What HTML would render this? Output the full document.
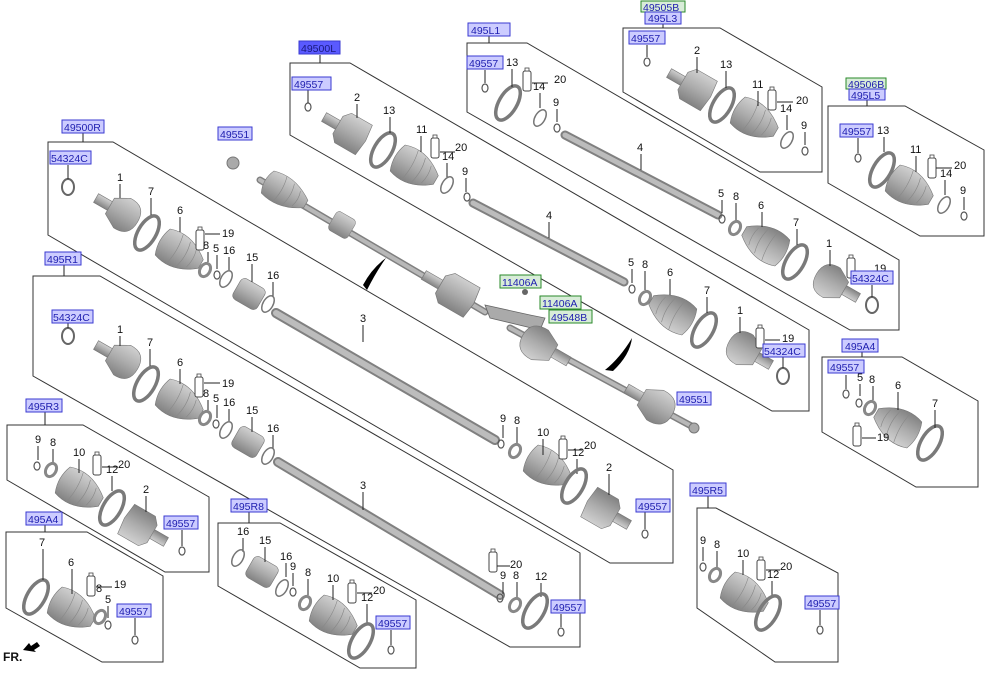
<!DOCTYPE html>
<html><head><meta charset="utf-8"><style>
html,body{margin:0;padding:0;background:#fff;}
svg{display:block;}
.p{fill:none;stroke:#333;stroke-width:1;}
.n{font-family:"Liberation Sans",sans-serif;font-size:11px;fill:#111;}
.ld{stroke:#222;stroke-width:1;fill:none;}
.lb rect{fill:#ccccff;stroke:#3a3ad0;stroke-width:1;}
.lb text{font-family:"Liberation Sans",sans-serif;font-size:10.5px;fill:#2020b0;}
.lg rect{fill:#d8ecd8;stroke:#2a8a2a;stroke-width:1;}
.lg text{font-family:"Liberation Sans",sans-serif;font-size:10.5px;fill:#2020b0;}
</style></head><body>
<svg width="1000" height="694" viewBox="0 0 1000 694" xmlns="http://www.w3.org/2000/svg">
<defs>
<linearGradient id="gg" x1="0" y1="0" x2="0" y2="1"><stop offset="0" stop-color="#d0d0d0"/><stop offset="0.5" stop-color="#acacac"/><stop offset="1" stop-color="#828282"/></linearGradient>
<g id="cv"><rect x="-30" y="-5" width="18" height="10" fill="url(#gg)" stroke="#777" stroke-width="0.6"/><path d="M-14,-9 L0,-17 Q18,-18 18,0 Q18,18 0,17 L-14,9 Z" fill="url(#gg)" stroke="#777" stroke-width="0.6"/></g>
<g id="cv2"><rect x="-30" y="-5" width="18" height="10" fill="url(#gg)" stroke="#777" stroke-width="0.6"/><path d="M-14,-10 L-8,-17 L16,-17 L18,0 L16,17 L-8,17 L-14,10 Z" fill="url(#gg)" stroke="#777" stroke-width="0.6"/></g>
<g id="boot"><path d="M-20,-15 Q0,-22 20,-8 L24,-5 L24,5 L20,8 Q0,22 -20,15 Q-26,0 -20,-15 Z" fill="url(#gg)" stroke="#777" stroke-width="0.6"/><path d="M-6,-17 Q-2,0 -6,17 M4,-14 Q8,0 4,14 M13,-10 Q16,0 13,10" stroke="#888" stroke-width="0.6" fill="none"/></g>
<g id="damp"><rect x="-14" y="-12" width="28" height="24" rx="5" fill="url(#gg)" stroke="#777" stroke-width="0.6"/></g>
<ellipse id="ring" cx="0" cy="0" rx="9" ry="19" fill="none" stroke="#7a7a7a" stroke-width="3.5"/>
<ellipse id="sring" cx="0" cy="0" rx="5" ry="9" fill="none" stroke="#777" stroke-width="1.5"/>
<ellipse id="wash" cx="0" cy="0" rx="5" ry="7" fill="none" stroke="#888" stroke-width="3"/>
<ellipse id="clip" cx="0" cy="0" rx="3" ry="4" fill="none" stroke="#555" stroke-width="1.2"/>
<g id="tube"><rect x="-4" y="-10" width="8" height="20" rx="2" fill="#fff" stroke="#444" stroke-width="1"/><rect x="-2" y="-13" width="4" height="3" fill="#fff" stroke="#444" stroke-width="0.8"/></g>
</defs>

<polygon class="p" points="290,63 350,63 809,330 809,411 772,411 290,135"/>
<polygon class="p" points="467,43 527,43 899,260 899,330 850,330 467,112"/>
<polygon class="p" points="623,28 720,28 822,87 822,172 760,172 623,92"/>
<polygon class="p" points="828,106 905,106 984,150 984,236 920,236 828,183"/>
<polygon class="p" points="48,142 113,142 673,470 673,563 610,563 48,235"/>
<polygon class="p" points="33,276 100,276 580,553 580,647 510,647 33,376"/>
<polygon class="p" points="7,425 83,425 209,497 209,572 165,572 7,480"/>
<polygon class="p" points="6,532 87,532 163,576 163,662 102,662 6,608"/>
<polygon class="p" points="218,523 280,523 416,600 416,668 360,668 218,586"/>
<polygon class="p" points="697,508 716,508 838,573 838,662 775,662 697,608"/>
<polygon class="p" points="822,357 902,357 978,401 978,487 916,487 822,432"/>

<path class="ld" d="M320,55V63 M489,36V43 M663,24V28 M867,100V106 M83,133V142 M64,264V276 M45,412V425 M45,525V532 M249,512V523 M708,496V508 M862,352V357"/>

<g stroke-linecap="round">
<line x1="473" y1="203" x2="624" y2="282" stroke="#808080" stroke-width="9"/><line x1="473" y1="203" x2="624" y2="282" stroke="#bcbcbc" stroke-width="5"/>
<line x1="565" y1="135" x2="718" y2="215" stroke="#808080" stroke-width="9"/><line x1="565" y1="135" x2="718" y2="215" stroke="#bcbcbc" stroke-width="5"/>
<line x1="276" y1="313" x2="495" y2="440" stroke="#808080" stroke-width="10"/><line x1="276" y1="313" x2="495" y2="440" stroke="#bcbcbc" stroke-width="6"/>
<line x1="278" y1="462" x2="500" y2="595" stroke="#808080" stroke-width="10"/><line x1="278" y1="462" x2="500" y2="595" stroke="#bcbcbc" stroke-width="6"/>
<line x1="260" y1="180" x2="485" y2="312" stroke="#808080" stroke-width="7"/><line x1="260" y1="180" x2="485" y2="312" stroke="#b8b8b8" stroke-width="4"/>
<line x1="510" y1="328" x2="695" y2="428" stroke="#808080" stroke-width="7"/><line x1="510" y1="328" x2="695" y2="428" stroke="#b8b8b8" stroke-width="4"/>
</g>

<ellipse cx="233" cy="163" rx="6" ry="6" fill="#aaa" stroke="#777"/>
<use href="#boot" transform="translate(285,192) rotate(30) scale(1,0.85)"/>
<use href="#damp" transform="translate(342,225) rotate(30) scale(0.8,0.9)"/>
<use href="#cv2" transform="translate(455,293) rotate(30) scale(1.2,1)"/>
<path d="M485,305 L530,315 L545,318 L540,330 L490,318 Z" fill="#aaa" stroke="#666" stroke-width="0.8"/>
<circle cx="525" cy="292" r="3" fill="#666"/>
<use href="#cv" transform="translate(540,345) rotate(210) scale(1.1,1)"/>
<use href="#cv" transform="translate(655,405) rotate(30) scale(1.1,1)"/>
<ellipse cx="694" cy="428" rx="5" ry="5" fill="#aaa" stroke="#777"/>
<path d="M363,285 Q372,268 386,258 Q376,272 367,290 Z" fill="#000"/>
<path d="M605,370 Q620,358 632,338 Q630,355 613,371 Z" fill="#000"/>

<use href="#clip" x="308" y="107"/><path class="ld" d="M308,90V103"/>
<use href="#cv2" transform="translate(350,132) rotate(30)"/><text class="n" x="354" y="101">2</text><path class="ld" d="M357,104V118"/>
<use href="#ring" transform="translate(383,150) rotate(30)"/><text class="n" x="383" y="114">13</text><path class="ld" d="M390,117V133"/>
<use href="#boot" transform="translate(415,168) rotate(30)"/><text class="n" x="416" y="133">11</text><path class="ld" d="M421,136V152"/>
<use href="#tube" x="435" y="148"/><text class="n" x="455" y="151">20</text><text class="n" x="442" y="160">14</text><path class="ld" d="M440,152H455 M447,163V178"/>
<use href="#sring" transform="translate(447,185) rotate(30)"/>
<text class="n" x="462" y="175">9</text><path class="ld" d="M466,178V192"/><use href="#clip" x="467" y="197"/>
<text class="n" x="546" y="219">4</text><path class="ld" d="M549,222V238"/>
<text class="n" x="628" y="266">5</text><path class="ld" d="M632,269V283"/><use href="#clip" x="632" y="289"/>
<text class="n" x="642" y="268">8</text><path class="ld" d="M645,271V290"/><use href="#wash" transform="translate(645,298) rotate(30)"/>
<use href="#boot" transform="translate(672,312) rotate(210)"/><text class="n" x="667" y="276">6</text><path class="ld" d="M670,279V295"/>
<use href="#ring" transform="translate(704,330) rotate(30)"/><text class="n" x="704" y="294">7</text><path class="ld" d="M707,297V313"/>
<use href="#cv" transform="translate(745,350) rotate(210)"/><text class="n" x="737" y="314">1</text><path class="ld" d="M740,317V333"/>
<use href="#tube" x="760" y="338"/><text class="n" x="782" y="342">19</text><path class="ld" d="M765,340H780"/>
<ellipse cx="783" cy="376" rx="6" ry="8" fill="none" stroke="#666" stroke-width="2"/><path class="ld" d="M783,357V368"/>

<use href="#clip" x="485" y="88"/><path class="ld" d="M485,70V83"/>
<use href="#ring" transform="translate(508,103) rotate(30)"/><text class="n" x="506" y="66">13</text><path class="ld" d="M512,69V87"/>
<use href="#tube" x="527" y="81"/><text class="n" x="554" y="83">20</text><text class="n" x="533" y="90">14</text><path class="ld" d="M532,83H548 M540,93V108"/>
<use href="#sring" transform="translate(540,118) rotate(30)"/>
<text class="n" x="553" y="106">9</text><path class="ld" d="M557,109V122"/><use href="#clip" x="557" y="128"/>
<text class="n" x="637" y="151">4</text><path class="ld" d="M641,154V170"/>
<text class="n" x="718" y="197">5</text><path class="ld" d="M722,200V213"/><use href="#clip" x="722" y="219"/>
<text class="n" x="733" y="200">8</text><path class="ld" d="M736,203V220"/><use href="#wash" transform="translate(735,228) rotate(30)"/>
<use href="#boot" transform="translate(765,243) rotate(210)"/><text class="n" x="758" y="209">6</text><path class="ld" d="M762,212V227"/>
<use href="#ring" transform="translate(795,262) rotate(30)"/><text class="n" x="793" y="226">7</text><path class="ld" d="M797,229V245"/>
<use href="#cv" transform="translate(832,283) rotate(210)"/><text class="n" x="826" y="247">1</text><path class="ld" d="M830,250V266"/>
<use href="#tube" x="851" y="268"/><text class="n" x="874" y="272">19</text>
<ellipse cx="872" cy="305" rx="6" ry="8" fill="none" stroke="#666" stroke-width="2"/><path class="ld" d="M872,285V297"/>

<use href="#clip" x="647" y="62"/><path class="ld" d="M647,45V57"/>
<use href="#cv2" transform="translate(695,88) rotate(30)"/><text class="n" x="694" y="54">2</text><path class="ld" d="M697,57V73"/>
<use href="#ring" transform="translate(722,105) rotate(30)"/><text class="n" x="720" y="68">13</text><path class="ld" d="M726,71V88"/>
<use href="#boot" transform="translate(755,120) rotate(30)"/><text class="n" x="752" y="88">11</text><path class="ld" d="M758,91V106"/>
<use href="#tube" x="772" y="100"/><text class="n" x="796" y="104">20</text><text class="n" x="780" y="112">14</text><path class="ld" d="M777,102H793 M787,115V130"/>
<use href="#sring" transform="translate(787,140) rotate(30)"/>
<text class="n" x="801" y="129">9</text><path class="ld" d="M805,132V145"/><use href="#clip" x="805" y="151"/>

<use href="#clip" x="858" y="158"/><path class="ld" d="M858,138V153"/>
<use href="#ring" transform="translate(882,170) rotate(30)"/><text class="n" x="877" y="134">13</text><path class="ld" d="M884,137V152"/>
<use href="#boot" transform="translate(910,188) rotate(30)"/><text class="n" x="910" y="153">11</text><path class="ld" d="M916,156V172"/>
<use href="#tube" x="932" y="168"/><text class="n" x="954" y="169">20</text><text class="n" x="940" y="177">14</text><path class="ld" d="M936,168H952 M945,180V195"/>
<use href="#sring" transform="translate(944,205) rotate(30)"/>
<text class="n" x="960" y="194">9</text><path class="ld" d="M964,197V210"/><use href="#clip" x="964" y="216"/>

<ellipse cx="68" cy="187" rx="6" ry="8" fill="none" stroke="#666" stroke-width="2"/><path class="ld" d="M68,165V179"/>
<use href="#cv" transform="translate(122,213) rotate(30)"/><text class="n" x="117" y="181">1</text><path class="ld" d="M120,184V198"/>
<use href="#ring" transform="translate(147,233) rotate(30)"/><text class="n" x="148" y="195">7</text><path class="ld" d="M151,198V215"/>
<use href="#boot" transform="translate(180,252) rotate(30)"/><text class="n" x="177" y="214">6</text><path class="ld" d="M180,217V232"/>
<use href="#tube" x="200" y="240"/><text class="n" x="222" y="237">19</text><text class="n" x="203" y="249">8</text><path class="ld" d="M205,234H220 M208,252V262"/>
<use href="#wash" transform="translate(205,270) rotate(30)"/>
<text class="n" x="213" y="252">5</text><path class="ld" d="M217,255V269"/><use href="#clip" x="217" y="275"/>
<text class="n" x="223" y="254">16</text><path class="ld" d="M229,257V270"/><use href="#sring" transform="translate(226,279) rotate(30)"/>
<use href="#damp" transform="translate(249,294) rotate(30)"/><text class="n" x="246" y="261">15</text><path class="ld" d="M252,264V282"/>
<text class="n" x="267" y="279">16</text><path class="ld" d="M273,282V296"/><use href="#sring" transform="translate(268,304) rotate(30)"/>
<text class="n" x="360" y="322">3</text><path class="ld" d="M363,325V342"/>
<text class="n" x="500" y="422">9</text><path class="ld" d="M503,425V438"/><use href="#clip" x="501" y="444"/>
<text class="n" x="514" y="424">8</text><path class="ld" d="M517,427V443"/><use href="#wash" transform="translate(515,451) rotate(30)"/>
<use href="#boot" transform="translate(548,468) rotate(30)"/><text class="n" x="537" y="436">10</text><path class="ld" d="M543,439V455"/>
<use href="#tube" x="563" y="449"/><text class="n" x="584" y="449">20</text><text class="n" x="572" y="456">12</text><path class="ld" d="M568,450H582 M577,459V474"/>
<use href="#ring" transform="translate(574,486) rotate(30)"/>
<use href="#cv2" transform="translate(603,510) rotate(210)"/><text class="n" x="606" y="471">2</text><path class="ld" d="M609,474V495"/>
<use href="#clip" x="645" y="534"/><path class="ld" d="M645,512V529"/>

<ellipse cx="68" cy="336" rx="6" ry="8" fill="none" stroke="#666" stroke-width="2"/><path class="ld" d="M68,323V328"/>
<use href="#cv" transform="translate(122,360) rotate(30)"/><text class="n" x="117" y="333">1</text><path class="ld" d="M120,336V346"/>
<use href="#ring" transform="translate(146,384) rotate(30)"/><text class="n" x="147" y="346">7</text><path class="ld" d="M150,349V366"/>
<use href="#boot" transform="translate(180,402) rotate(30)"/><text class="n" x="177" y="366">6</text><path class="ld" d="M180,369V384"/>
<use href="#tube" x="199" y="387"/><text class="n" x="222" y="387">19</text><text class="n" x="203" y="397">8</text><path class="ld" d="M204,383H220 M208,400V411"/>
<use href="#wash" transform="translate(205,418) rotate(30)"/>
<text class="n" x="213" y="402">5</text><path class="ld" d="M217,405V418"/><use href="#clip" x="216" y="424"/>
<text class="n" x="223" y="406">16</text><path class="ld" d="M229,409V421"/><use href="#sring" transform="translate(226,430) rotate(30)"/>
<use href="#damp" transform="translate(248,442) rotate(30)"/><text class="n" x="246" y="414">15</text><path class="ld" d="M252,417V432"/>
<text class="n" x="267" y="432">16</text><path class="ld" d="M273,435V448"/><use href="#sring" transform="translate(268,456) rotate(30)"/>
<text class="n" x="360" y="489">3</text><path class="ld" d="M363,492V510"/>
<use href="#tube" x="493" y="562"/><text class="n" x="510" y="568">20</text><path class="ld" d="M497,566H510"/>
<text class="n" x="500" y="579">9</text><path class="ld" d="M503,582V594"/><use href="#clip" x="500" y="598"/>
<text class="n" x="513" y="579">8</text><path class="ld" d="M517,582V598"/><use href="#wash" transform="translate(515,605) rotate(30)"/>
<text class="n" x="535" y="580">12</text><path class="ld" d="M541,583V597"/><use href="#ring" transform="translate(535,611) rotate(30)"/>
<use href="#clip" x="561" y="632"/><path class="ld" d="M561,614V627"/>

<text class="n" x="35" y="443">9</text><path class="ld" d="M38,446V460"/><use href="#clip" x="37" y="466"/>
<text class="n" x="50" y="446">8</text><path class="ld" d="M53,449V462"/><use href="#wash" transform="translate(51,470) rotate(30)"/>
<use href="#boot" transform="translate(80,490) rotate(30)"/><text class="n" x="73" y="456">10</text><path class="ld" d="M79,459V473"/>
<use href="#tube" x="97" y="465"/><text class="n" x="118" y="468">20</text><text class="n" x="106" y="473">12</text><path class="ld" d="M102,467H118 M112,476V491"/>
<use href="#ring" transform="translate(112,508) rotate(30)"/>
<use href="#cv2" transform="translate(140,527) rotate(210)"/><text class="n" x="143" y="493">2</text><path class="ld" d="M146,496V512"/>
<use href="#clip" x="182" y="551"/><path class="ld" d="M182,530V546"/>

<use href="#ring" transform="translate(36,597) rotate(30)"/><text class="n" x="39" y="546">7</text><path class="ld" d="M43,549V580"/>
<use href="#boot" transform="translate(72,610) rotate(30)"/><text class="n" x="68" y="566">6</text><path class="ld" d="M72,569V594"/>
<use href="#tube" x="91" y="586"/><text class="n" x="114" y="588">19</text><text class="n" x="96" y="592">8</text><path class="ld" d="M96,587H112"/>
<use href="#wash" transform="translate(100,617) rotate(30)"/>
<text class="n" x="105" y="603">5</text><path class="ld" d="M108,606V618"/><use href="#clip" x="108" y="625"/>
<use href="#clip" x="135" y="640"/><path class="ld" d="M135,618V635"/>

<text class="n" x="237" y="535">16</text><path class="ld" d="M243,538V552"/><use href="#sring" transform="translate(238,558) rotate(30)"/>
<use href="#damp" transform="translate(262,572) rotate(30)"/><text class="n" x="259" y="544">15</text><path class="ld" d="M265,547V562"/>
<text class="n" x="280" y="560">16</text><path class="ld" d="M286,563V577"/><use href="#sring" transform="translate(282,588) rotate(30)"/>
<text class="n" x="290" y="570">9</text><path class="ld" d="M293,573V586"/><use href="#clip" x="293" y="592"/>
<text class="n" x="305" y="576">8</text><path class="ld" d="M308,579V596"/><use href="#wash" transform="translate(305,603) rotate(30)"/>
<use href="#boot" transform="translate(334,618) rotate(30)"/><text class="n" x="327" y="582">10</text><path class="ld" d="M333,585V600"/>
<use href="#tube" x="352" y="593"/><text class="n" x="373" y="594">20</text><text class="n" x="361" y="601">12</text><path class="ld" d="M357,593H372 M367,604V625"/>
<use href="#ring" transform="translate(361,641) rotate(30)"/>
<use href="#clip" x="391" y="650"/><path class="ld" d="M391,630V645"/>

<text class="n" x="700" y="544">9</text><path class="ld" d="M703,547V561"/><use href="#clip" x="703" y="567"/>
<text class="n" x="714" y="548">8</text><path class="ld" d="M717,551V568"/><use href="#wash" transform="translate(715,575) rotate(30)"/>
<use href="#boot" transform="translate(745,595) rotate(30)"/><text class="n" x="737" y="557">10</text><path class="ld" d="M743,560V575"/>
<use href="#tube" x="761" y="570"/><text class="n" x="780" y="570">20</text><text class="n" x="767" y="578">12</text><path class="ld" d="M766,570H780 M772,581V597"/>
<use href="#ring" transform="translate(768,613) rotate(30)"/>
<use href="#clip" x="820" y="630"/><path class="ld" d="M820,610V625"/>

<use href="#clip" x="846" y="394"/><path class="ld" d="M846,375V389"/>
<text class="n" x="857" y="381">5</text><path class="ld" d="M860,384V396"/><use href="#clip" x="859" y="403"/>
<text class="n" x="869" y="383">8</text><path class="ld" d="M873,386V400"/><use href="#wash" transform="translate(870,408) rotate(30)"/>
<use href="#boot" transform="translate(897,425) rotate(210)"/><text class="n" x="895" y="389">6</text><path class="ld" d="M898,392V410"/>
<use href="#tube" x="857" y="436"/><text class="n" x="877" y="441">19</text><path class="ld" d="M862,438H876"/>
<use href="#ring" transform="translate(930,443) rotate(30)"/><text class="n" x="932" y="407">7</text><path class="ld" d="M935,410V428"/>

<text x="3" y="661" font-family="Liberation Sans,sans-serif" font-size="12" font-weight="bold" fill="#111">FR.</text>
<path d="M23,650 L29,643 L31,646 L37,642 L40,646 L34,650 L36,652 Z" fill="#000"/>

<g class="lb"><rect x="299" y="41" width="41" height="13" style="fill:#5a5aff"/><text x="301" y="52" style="fill:#1a1a80">49500L</text></g>
<g class="lb"><rect x="292" y="77" width="39" height="13"/><text x="294" y="88">49557</text></g>
<g class="lb"><rect x="468" y="23" width="42" height="13"/><text x="471" y="34">495L1</text></g>
<g class="lb"><rect x="467" y="56" width="36" height="13"/><text x="469" y="67">49557</text></g>
<g class="lg"><rect x="641" y="1" width="44" height="11"/><text x="643" y="11">49505B</text></g>
<g class="lb"><rect x="645" y="12" width="36" height="12"/><text x="648" y="22">495L3</text></g>
<g class="lb"><rect x="629" y="31" width="36" height="13"/><text x="631" y="42">49557</text></g>
<g class="lg"><rect x="846" y="78" width="40" height="11"/><text x="848" y="88">49506B</text></g>
<g class="lb"><rect x="849" y="89" width="36" height="11"/><text x="851" y="99">495L5</text></g>
<g class="lb"><rect x="840" y="124" width="33" height="13"/><text x="842" y="135">49557</text></g>
<g class="lb"><rect x="62" y="120" width="42" height="13"/><text x="64" y="131">49500R</text></g>
<g class="lb"><rect x="50" y="151" width="41" height="13"/><text x="51" y="162">54324C</text></g>
<g class="lb"><rect x="218" y="127" width="34" height="13"/><text x="220" y="138">49551</text></g>
<g class="lb"><rect x="45" y="252" width="36" height="13"/><text x="47" y="263">495R1</text></g>
<g class="lb"><rect x="52" y="310" width="41" height="13"/><text x="53" y="321">54324C</text></g>
<g class="lg"><rect x="500" y="275" width="41" height="13"/><text x="502" y="286">11406A</text></g>
<g class="lg"><rect x="540" y="296" width="41" height="13"/><text x="542" y="307">11406A</text></g>
<g class="lg"><rect x="549" y="310" width="43" height="13"/><text x="551" y="321">49548B</text></g>
<g class="lb"><rect x="851" y="271" width="42" height="13"/><text x="852" y="282">54324C</text></g>
<g class="lb"><rect x="763" y="344" width="42" height="13"/><text x="764" y="355">54324C</text></g>
<g class="lb"><rect x="842" y="339" width="36" height="13"/><text x="845" y="350">495A4</text></g>
<g class="lb"><rect x="828" y="360" width="36" height="13"/><text x="830" y="371">49557</text></g>
<g class="lb"><rect x="677" y="392" width="34" height="13"/><text x="679" y="403">49551</text></g>
<g class="lb"><rect x="26" y="399" width="36" height="13"/><text x="28" y="410">495R3</text></g>
<g class="lb"><rect x="164" y="516" width="34" height="13"/><text x="166" y="527">49557</text></g>
<g class="lb"><rect x="636" y="499" width="34" height="13"/><text x="638" y="510">49557</text></g>
<g class="lb"><rect x="690" y="483" width="36" height="13"/><text x="692" y="494">495R5</text></g>
<g class="lb"><rect x="26" y="512" width="36" height="13"/><text x="28" y="523">495A4</text></g>
<g class="lb"><rect x="231" y="499" width="36" height="13"/><text x="233" y="510">495R8</text></g>
<g class="lb"><rect x="117" y="604" width="34" height="13"/><text x="119" y="615">49557</text></g>
<g class="lb"><rect x="376" y="616" width="34" height="13"/><text x="378" y="627">49557</text></g>
<g class="lb"><rect x="551" y="600" width="34" height="13"/><text x="553" y="611">49557</text></g>
<g class="lb"><rect x="805" y="596" width="34" height="13"/><text x="807" y="607">49557</text></g>
</svg>
</body></html>
